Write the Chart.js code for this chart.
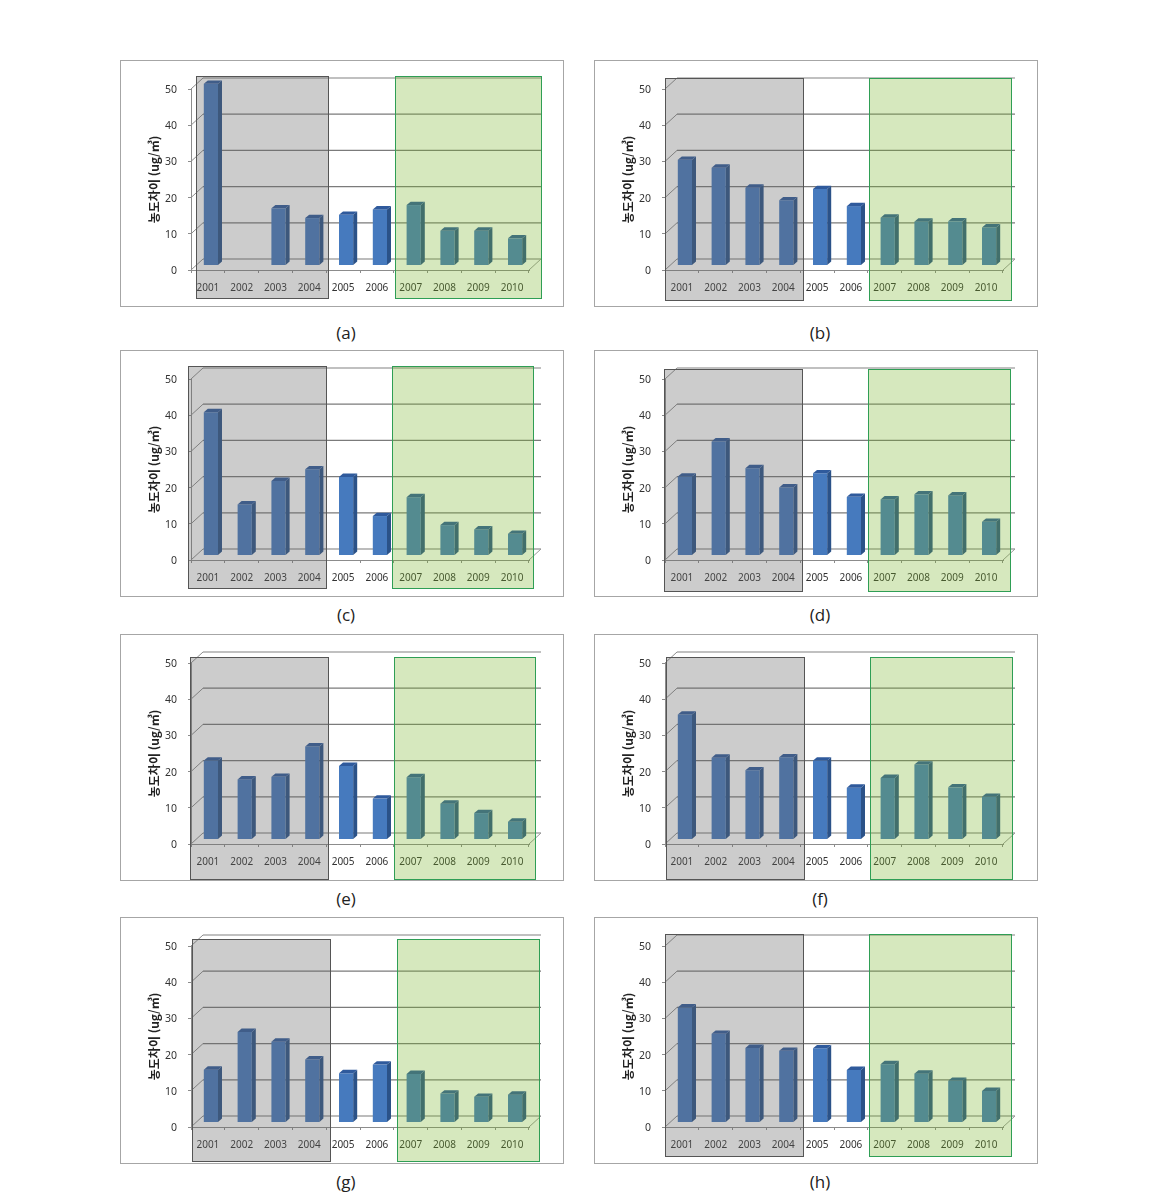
<!DOCTYPE html>
<html lang="ko">
<head>
<meta charset="utf-8">
<title>농도차이</title>
<script src="https://cdn.jsdelivr.net/npm/chart.js@4"></script>
<style>
  html, body { margin: 0; background: #fff; overflow: hidden; }
  #page { position: relative; width: 1175px; height: 1203px; }
  .panel { position: absolute; width: 444px; height: 247px; outline: 1px solid #a6a6a6; outline-offset: -1px; }
  .panel canvas { position: absolute; left: 0; top: 0; }
  .caption { position: absolute; width: 444px; text-align: center; font: 17px "Open Sans", sans-serif; color: #222; transform: translateY(-50%); }
</style>
</head>
<body>
<div id="page"></div>
<script>
const years = ["2001","2002","2003","2004","2005","2006","2007","2008","2009","2010"];
const yTicksMax = 50;
const yTitle = "농도차이 (ug/㎥)";

// values
const seriesA = [50.2, null, 15.8, 13.1, 14.0, 15.5, 16.7, 9.6, 9.6, 7.5];
const seriesB = [29.2, 27.0, 21.5, 18.0, 21.1, 16.4, 13.2, 12.1, 12.2, 10.5];
const seriesC = [39.6, 14.1, 20.6, 23.8, 21.7, 10.9, 16.1, 8.4, 7.2, 6.0];
const seriesD = [21.8, 31.5, 24.1, 18.8, 22.7, 16.2, 15.5, 16.9, 16.6, 9.3];
const seriesE = [21.8, 16.6, 17.3, 25.7, 20.3, 11.3, 17.2, 9.9, 7.3, 4.9];
const seriesF = [34.5, 22.6, 19.1, 22.7, 21.8, 14.3, 17.0, 20.7, 14.4, 11.8];
const seriesG = [14.6, 25.0, 22.3, 17.4, 13.6, 16.0, 13.4, 8.0, 7.1, 7.7];
const seriesH = [31.8, 24.5, 20.6, 19.8, 20.5, 14.5, 16.1, 13.5, 11.5, 8.7];

// panel placement on the page, shaded boxes are relative to the panel
const layout = [
  { name: "(a)", data: seriesA, x: 120, y: 60,  capY: 332,  grey: [76, 208],  green: [275, 421], boxY: 16 },
  { name: "(b)", data: seriesB, x: 594, y: 60,  capY: 332,  grey: [71, 209],  green: [275, 417], boxY: 18 },
  { name: "(c)", data: seriesC, x: 120, y: 350, capY: 614,  grey: [68, 206],  green: [272, 413], boxY: 16 },
  { name: "(d)", data: seriesD, x: 594, y: 350, capY: 614,  grey: [70, 208],  green: [274, 416], boxY: 19 },
  { name: "(e)", data: seriesE, x: 120, y: 634, capY: 898,  grey: [70, 208],  green: [274, 415], boxY: 23 },
  { name: "(f)", data: seriesF, x: 594, y: 634, capY: 898,  grey: [72, 210],  green: [276, 418], boxY: 23 },
  { name: "(g)", data: seriesG, x: 120, y: 917, capY: 1181, grey: [72, 210],  green: [277, 419], boxY: 22 },
  { name: "(h)", data: seriesH, x: 594, y: 917, capY: 1181, grey: [71, 209],  green: [275, 417], boxY: 17 }
];

const WALL_DX = 12, WALL_DY = 11;   // depth of the fake 3d room
const BAR_DX = 3, BAR_DY = -4.5;    // bars stand a bit inside the floor
const SIDE_DX = 4, SIDE_DY = 3.4;   // depth of each bar

// back wall, left wall and floor lines, taken from the y scale
const roomPlugin = {
  id: "room",
  beforeDatasetsDraw(chart) {
    const ctx = chart.ctx, y = chart.scales.y, a = chart.chartArea;
    ctx.save();
    y.ticks.forEach(t => {
      const py = y.getPixelForValue(t.value);
      ctx.strokeStyle = t.value === yTicksMax ? "#ababab" : "#7b7b7b";
      ctx.lineWidth = t.value === yTicksMax ? 1.5 : 1.2;
      ctx.beginPath();
      ctx.moveTo(a.left + WALL_DX, py - WALL_DY);
      ctx.lineTo(a.right + WALL_DX, py - WALL_DY);
      ctx.stroke();
      ctx.strokeStyle = "#8c8c8c";
      ctx.lineWidth = 1;
      ctx.beginPath();
      ctx.moveTo(a.left, py);
      ctx.lineTo(a.left + WALL_DX, py - WALL_DY);
      ctx.stroke();
    });
    // right edge of the floor
    const py0 = y.getPixelForValue(0);
    ctx.strokeStyle = "#9a9a9a";
    ctx.beginPath();
    ctx.moveTo(a.right, py0);
    ctx.lineTo(a.right + WALL_DX, py0 - WALL_DY);
    ctx.stroke();
    ctx.restore();
    // stays open until afterDatasetsDraw so the bars shift too
    ctx.save();
    ctx.translate(BAR_DX, BAR_DY);
  },
  afterDatasetsDraw(chart) {
    const ctx = chart.ctx, values = chart.data.datasets[0].data;
    chart.getDatasetMeta(0).data.forEach((el, i) => {
      if (values[i] === null) return;
      const p = el.getProps(["x", "y", "base", "width"], true);
      const x1 = p.x + p.width / 2, x0 = p.x - p.width / 2;
      ctx.fillStyle = "#2b5288";
      ctx.beginPath();
      ctx.moveTo(x1, p.y);
      ctx.lineTo(x1 + SIDE_DX, p.y - SIDE_DY);
      ctx.lineTo(x1 + SIDE_DX, p.base - SIDE_DY);
      ctx.lineTo(x1, p.base);
      ctx.closePath();
      ctx.fill();
      ctx.fillStyle = "#2f5a9c";
      ctx.beginPath();
      ctx.moveTo(x0, p.y);
      ctx.lineTo(x0 + SIDE_DX, p.y - SIDE_DY);
      ctx.lineTo(x1 + SIDE_DX, p.y - SIDE_DY);
      ctx.lineTo(x1, p.y);
      ctx.closePath();
      ctx.fill();
    });
    ctx.restore();
  }
};

// see-through grey and green boxes laid over the finished chart
const shadePlugin = {
  id: "shade",
  afterDraw(chart, args, opts) {
    const ctx = chart.ctx, top = opts.boxY, h = 222;
    ctx.save();
    ctx.fillStyle = "rgba(100,100,100,0.33)";
    ctx.fillRect(opts.grey[0], top, opts.grey[1] - opts.grey[0], h);
    ctx.strokeStyle = "#555";
    ctx.lineWidth = 1;
    ctx.strokeRect(opts.grey[0] + 0.5, top + 0.5, opts.grey[1] - opts.grey[0], h);
    ctx.fillStyle = "rgba(120,180,40,0.3)";
    ctx.fillRect(opts.green[0], top, opts.green[1] - opts.green[0], h);
    ctx.strokeStyle = "#2f9e55";
    ctx.strokeRect(opts.green[0] + 0.5, top + 0.5, opts.green[1] - opts.green[0], h);
    ctx.restore();
  }
};

const page = document.getElementById("page");

layout.forEach(p => {
  const box = document.createElement("div");
  box.className = "panel";
  box.style.left = p.x + "px";
  box.style.top = p.y + "px";
  const canvas = document.createElement("canvas");
  canvas.width = 444;
  canvas.height = 247;
  box.appendChild(canvas);
  page.appendChild(box);

  const cap = document.createElement("div");
  cap.className = "caption";
  cap.textContent = p.name;
  cap.style.left = (p.x + 4) + "px";
  cap.style.top = p.capY + "px";
  page.appendChild(cap);

  new Chart(canvas.getContext("2d"), {
    type: "bar",
    data: {
      labels: years,
      datasets: [{
        data: p.data,
        backgroundColor: "#467abe",
        categoryPercentage: 1,
        barPercentage: 0.42,
        clip: false
      }]
    },
    options: {
      responsive: false,
      animation: false,
      devicePixelRatio: 1,
      layout: { padding: { left: 27, right: 35, top: 29, bottom: 0 } },
      plugins: {
        legend: { display: false },
        tooltip: { enabled: false },
        shade: { grey: p.grey, green: p.green, boxY: p.boxY }
      },
      scales: {
        x: {
          afterFit: s => { s.height = 37; },
          grid: { drawOnChartArea: false, tickLength: 3, color: "#8c8c8c" },
          border: { color: "#8c8c8c" },
          ticks: { padding: 9, color: "#333", autoSkip: false, maxRotation: 0, font: { family: "'Noto Sans'", size: 10 } }
        },
        y: {
          min: 0,
          max: yTicksMax,
          afterFit: s => { s.width = 44; },
          title: { display: true, text: yTitle, color: "#222", padding: 0, font: { family: "'Noto Sans CJK KR'", size: 12, weight: "bold" } },
          grid: { drawOnChartArea: false, tickLength: 3, color: "#8c8c8c" },
          border: { color: "#8c8c8c" },
          ticks: { stepSize: 10, padding: 11, labelOffset: 1, color: "#333", font: { family: "'Noto Sans'", size: 10.5 } }
        }
      }
    },
    plugins: [roomPlugin, shadePlugin]
  });
});
</script>
</body>
</html>
